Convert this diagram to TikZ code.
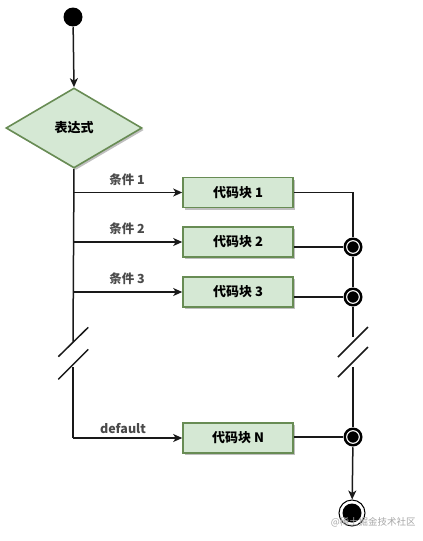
\documentclass[tikz,border=0pt]{standalone}
\usepackage{fontspec}
\newfontfamily\cjk{Noto Sans CJK SC}
\usetikzlibrary{arrows.meta,shapes.geometric,shadows}
\definecolor{boxfill}{HTML}{D5E8D4}
\definecolor{boxline}{RGB}{104,140,84}
\definecolor{lblgray}{HTML}{4A4A4A}
\begin{document}
\begin{tikzpicture}[x=1pt,y=-1pt,
  line width=1.5pt,
  conn/.style={draw=black!90,line width=1.5pt},
  arr/.style={conn,-{Stealth[length=9pt,width=8pt,inset=2.5pt]}},
  gshadow/.style={drop shadow={shadow xshift=2pt,shadow yshift=-2pt,opacity=0.25,fill=black}},
  blockbox/.style={rectangle,draw=boxline,fill=boxfill,line width=1.6pt,minimum width=110pt,minimum height=30pt,inner sep=0pt,font=\cjk\bfseries\fontsize{13}{15}\selectfont,gshadow},
  decision/.style={diamond,draw=boxline,fill=boxfill,line width=1.6pt,minimum width=136pt,minimum height=80pt,inner sep=0pt,font=\cjk\bfseries\fontsize{13}{15}\selectfont,gshadow},
  condlbl/.style={text=lblgray,font=\cjk\bfseries\fontsize{12.5}{14}\selectfont,inner sep=0pt},
  startdot/.style={circle,fill=black,minimum size=19pt,inner sep=0pt},
  merge/.style={circle,fill=black,minimum size=19pt,inner sep=0pt,
    path picture={\draw[white,line width=1.1pt] (path picture bounding box.center) circle (6.3pt);}},
  enddot/.style={circle,draw=black,line width=1pt,fill=white,minimum size=26pt,inner sep=0pt,
    path picture={\fill[black] (path picture bounding box.center) circle (9.5pt);}},
  slash/.style={draw=black!90,line width=1.5pt}
]
\useasboundingbox (0,0) rectangle (423,541);

% nodes
\node[startdot] (start) at (73,17) {};
\node[decision] (expr) at (74,128) {表达式};
\node[blockbox] (b1) at (238,192.5) {代码块 1};
\node[blockbox] (b2) at (238,242) {代码块 2};
\node[blockbox] (b3) at (238,292) {代码块 3};
\node[blockbox] (bN) at (238,438) {代码块 N};

\node[merge] (m2) at (353,247) {};
\node[merge] (m3) at (353,297) {};
\node[merge] (mN) at (353,437) {};
\node[enddot] (stop) at (352,513) {};

% labels
\node[condlbl] (l1) at (127,180) {条件 1};
\node[condlbl] (l2) at (127,229) {条件 2};
\node[condlbl] (l3) at (127,279) {条件 3};
\node[condlbl] (lN) at (123,428.5) {default};

% left trunk coordinates
\coordinate (r1) at (73,192.5);
\coordinate (r2) at (73,242);
\coordinate (r3) at (73,292);
\coordinate (rN) at (73,438);
\coordinate (lbrkA) at (73,341.7);
\coordinate (lbrkB) at (73,367.3);
\coordinate (rbrkA) at (353,337);
\coordinate (rbrkB) at (353,367);

% start arrow
\draw[arr] (start) -- (expr.north);

% left trunk
\draw[conn] (expr.south) -- (lbrkA);
\draw[conn] (lbrkB) -- (rN);
\draw[arr] (r1) -- (b1.west);
\draw[arr] (r2) -- (b2.west);
\draw[arr] (r3) -- (b3.west);
\draw[arr] (rN) -- (bN.west);

% left break marks
\coordinate (ls1a) at (58.3,356.7); \coordinate (ls1b) at (88.3,327.3);
\coordinate (ls2a) at (58.3,379.3); \coordinate (ls2b) at (88.3,349.3);
\draw[slash] (ls1a) -- (ls1b);
\draw[slash] (ls2a) -- (ls2b);

% right side
\draw[conn] (b1.east) -| (m2);
\draw[conn] (b2.east |- m2) -- (m2);
\draw[conn] (b3.east |- m3) -- (m3);
\draw[conn] (bN.east |- mN) -- (mN);
\draw[conn] (m2) -- (m3);
\draw[conn] (m3) -- (rbrkA);
\draw[conn] (rbrkB) -- (mN);
\draw[arr] (mN) -- (stop);

% right break marks
\coordinate (rs1a) at (338,357); \coordinate (rs1b) at (368,327);
\coordinate (rs2a) at (338,377); \coordinate (rs2b) at (368,347);
\draw[slash] (rs1a) -- (rs1b);
\draw[slash] (rs2a) -- (rs2b);

% watermark
\node[text=black!35,font=\cjk\fontsize{9.5}{11}\selectfont,inner sep=0pt,anchor=west] (wm) at (330,522) {@稀土掘金技术社区};
\end{tikzpicture}
\end{document}
